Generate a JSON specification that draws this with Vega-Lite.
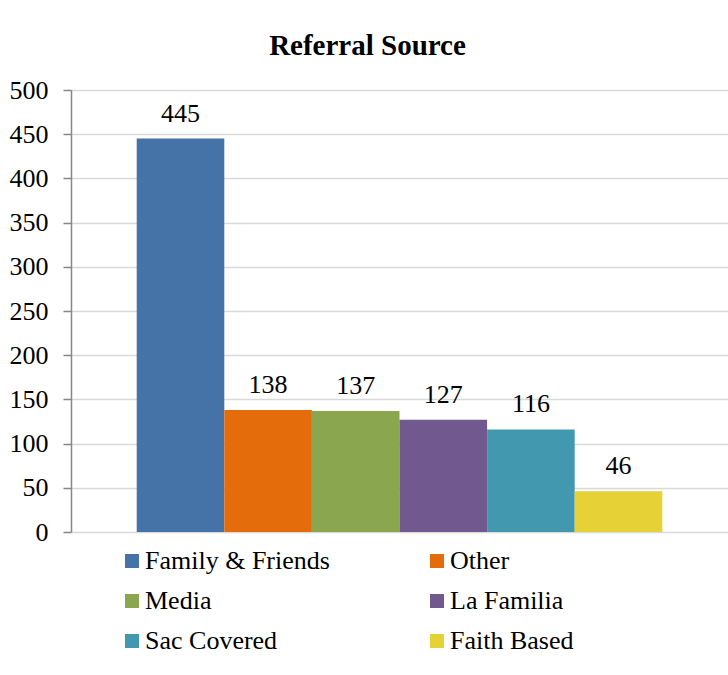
{
  "$schema": "https://vega.github.io/schema/vega-lite/v6.json",
  "autosize": {"type": "none"},
  "width": 657,
  "height": 442,
  "padding": {"left": 71, "top": 90, "right": 0, "bottom": 143},
  "background": "white",
  "config": {
    "font": "Times New Roman, Liberation Serif, serif",
    "view": {"stroke": null}
  },
  "title": {
    "text": "Referral Source",
    "font": "Times New Roman, Liberation Serif, serif",
    "fontSize": 29,
    "fontWeight": "bold",
    "color": "#000000",
    "anchor": "middle",
    "dx": -32,
    "offset": 16
  },
  "data": {
    "values": [
      {"source": "Family & Friends", "count": 445},
      {"source": "Other", "count": 138},
      {"source": "Media", "count": 137},
      {"source": "La Familia", "count": 127},
      {"source": "Sac Covered", "count": 116},
      {"source": "Faith Based", "count": 46}
    ]
  },
  "encoding": {
    "x": {
      "field": "source",
      "type": "nominal",
      "sort": null,
      "scale": {"paddingInner": 0, "paddingOuter": 0.75},
      "axis": null
    },
    "y": {
      "field": "count",
      "type": "quantitative",
      "scale": {"domain": [0, 500], "nice": false},
      "axis": {
        "title": null,
        "values": [0, 50, 100, 150, 200, 250, 300, 350, 400, 450, 500],
        "labelFont": "Times New Roman, Liberation Serif, serif",
        "labelFontSize": 26,
        "labelColor": "#000000",
        "labelPadding": 15,
        "tickSize": 8,
        "tickColor": "#868686",
        "tickWidth": 1.5,
        "domainColor": "#868686",
        "domainWidth": 1.5,
        "gridColor": "#d9d9d9",
        "gridWidth": 1.5
      }
    }
  },
  "layer": [
    {
      "mark": {"type": "bar", "stroke": null},
      "encoding": {
        "color": {
          "field": "source",
          "type": "nominal",
          "sort": null,
          "scale": {
            "domain": ["Family & Friends", "Other", "Media", "La Familia", "Sac Covered", "Faith Based"],
            "range": ["#4673A7", "#E46C0B", "#8AA64F", "#71588F", "#4298AF", "#E6D237"]
          },
          "legend": {
            "title": null,
            "orient": "none",
            "legendX": 48,
            "legendY": 458,
            "columns": 2,
            "direction": "horizontal",
            "padding": 0,
            "columnPadding": 94,
            "rowPadding": 14,
            "symbolType": "square",
            "symbolSize": 196,
            "symbolStrokeWidth": 0,
            "symbolOpacity": 1,
            "labelFont": "Times New Roman, Liberation Serif, serif",
            "labelFontSize": 26,
            "labelColor": "#000000",
            "labelOffset": 0,
            "labelLimit": 400
          }
        }
      }
    },
    {
      "mark": {
        "type": "text",
        "baseline": "alphabetic",
        "dy": -17,
        "font": "Times New Roman, Liberation Serif, serif",
        "fontSize": 26,
        "color": "#000000"
      },
      "encoding": {
        "text": {"field": "count", "type": "quantitative"}
      }
    }
  ]
}
